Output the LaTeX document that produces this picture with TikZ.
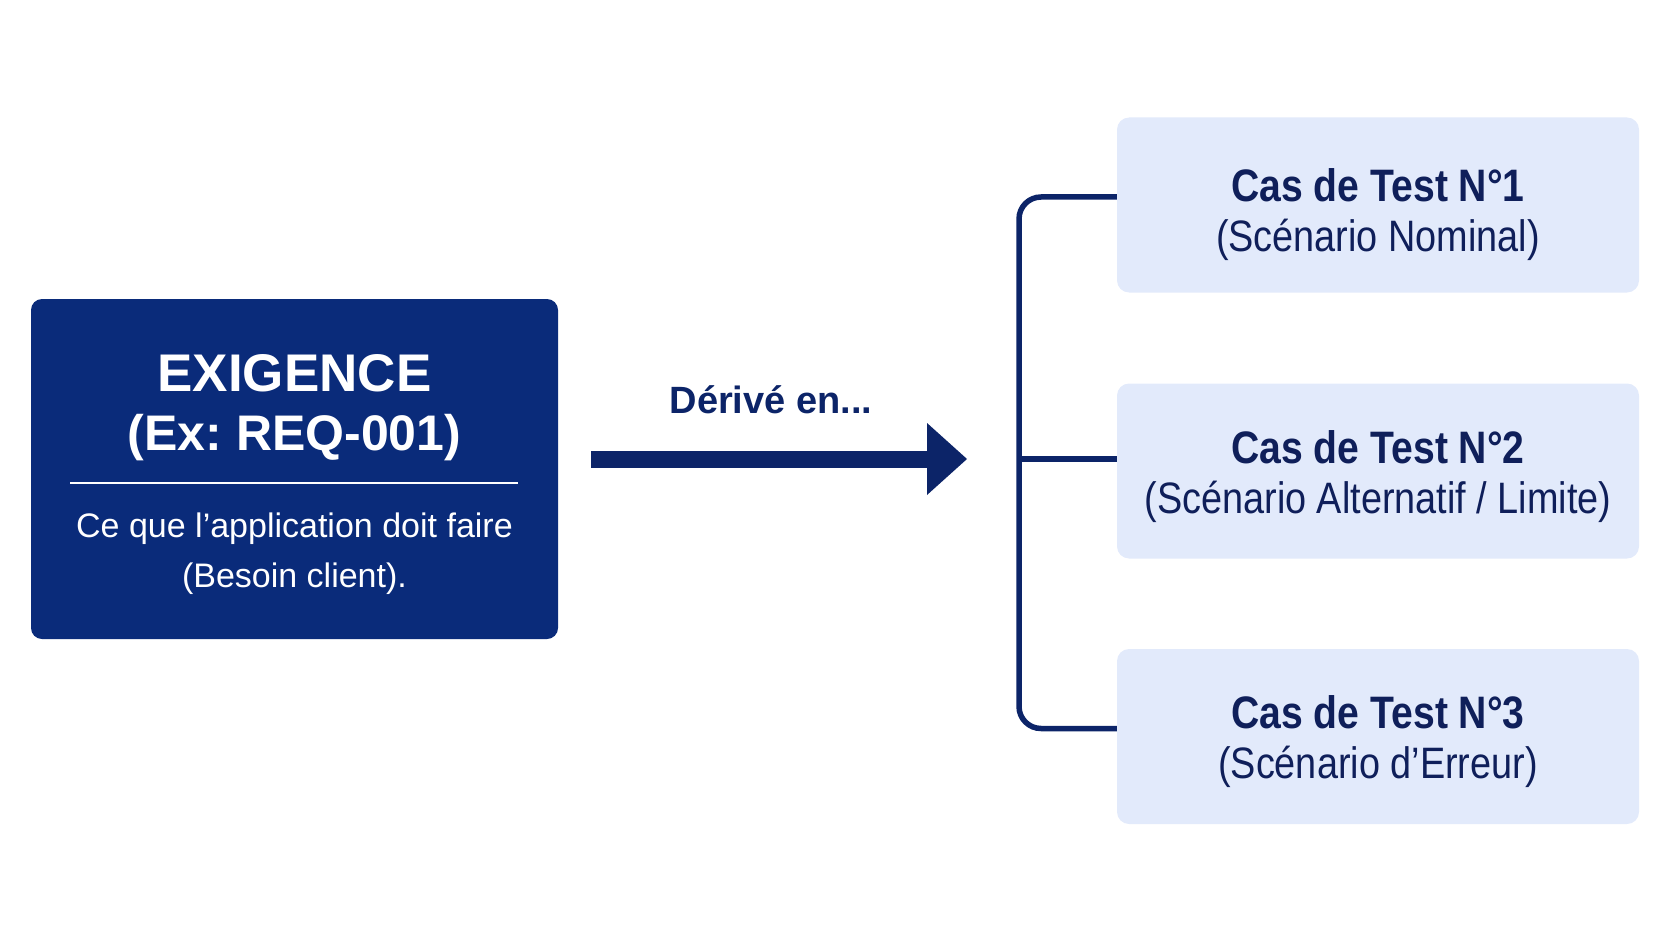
\documentclass[tikz,border=0pt]{standalone}
\usepackage{fontspec}
\setmainfont{Liberation Sans}
\newfontfamily\narrowsans[FakeStretch=0.86]{Liberation Sans}
\usetikzlibrary{arrows.meta}

\definecolor{reqblue}{HTML}{0A2B7A}
\definecolor{inkblue}{HTML}{0C2468}
\definecolor{caseblue}{HTML}{E2EAFB}
\definecolor{casetext}{HTML}{0F1F5A}

\newcommand{\casehead}[1]{{\bfseries\fontsize{45.5}{50}\selectfont #1}}

\begin{document}
\begin{tikzpicture}[x=1pt, y=-1pt,
  reqbox/.style={rectangle, rounded corners=11pt, fill=reqblue, minimum width=527pt, minimum height=340pt, inner sep=0pt},
  reqtext/.style={align=center, text=white, inner sep=0pt},
  casebox/.style={rectangle, rounded corners=12pt, fill=caseblue, minimum width=522pt, minimum height=175pt, inner sep=0pt},
  casetxt/.style={align=center, text=casetext, inner sep=0pt, font=\narrowsans\fontsize{44}{50}\selectfont},
  linkline/.style={draw=inkblue, line width=5.5pt},
  bigarrow/.style={draw=inkblue, line width=17pt, -{Triangle[length=40pt, width=72pt, line width=0pt]}}]
% Canvas
\useasboundingbox (0,0) rectangle (1672,941);

% Requirement
\node[reqbox] (req) at (294.5,469) {};
\node[reqtext, font=\bfseries\fontsize{50}{59}\selectfont] (reqtitle) at (294.5,408) {{\fontsize{53}{59}\selectfont EXIGENCE}\\(Ex:\ REQ-001)};
\draw[white, line width=2.5pt] (70,483) -- (518,483);
\node[reqtext, font=\fontsize{34}{50}\selectfont] (reqbody) at (294.5,554) {Ce que l’application doit faire\\(Besoin client).};

% Arrow
\coordinate (fork) at (1019,459);
\draw[bigarrow] ([xshift=33pt, yshift=10pt]req.east) -- ([xshift=-52pt]fork);
\node[font=\bfseries\fontsize{38}{44}\selectfont, text=inkblue] (derive) at (771,400) {Dérivé en...};

% Test cases
\node[casebox] (c1) at (1378,205) {};
\node[casebox] (c2) at (1378,471) {};
\node[casebox] (c3) at (1378,736.5) {};
\node[casetxt] (c1t) at ([yshift=-10pt]c1.center) {\casehead{Cas de Test N°1}\\(Scénario Nominal)};
\node[casetxt] (c2t) at ([yshift=-6pt]c2.center) {\casehead{Cas de Test N°2}\\(Scénario Alternatif / Limite)};
\node[casetxt] (c3t) at ([yshift=-5pt]c3.center) {\casehead{Cas de Test N°3}\\(Scénario d’Erreur)};

% Links
\draw[linkline, rounded corners=22pt] ([yshift=8pt]c1.west) -| (fork) |- ([yshift=8pt]c3.west);
\draw[linkline] (fork) -- (fork -| c2.west);
\end{tikzpicture}
\end{document}
